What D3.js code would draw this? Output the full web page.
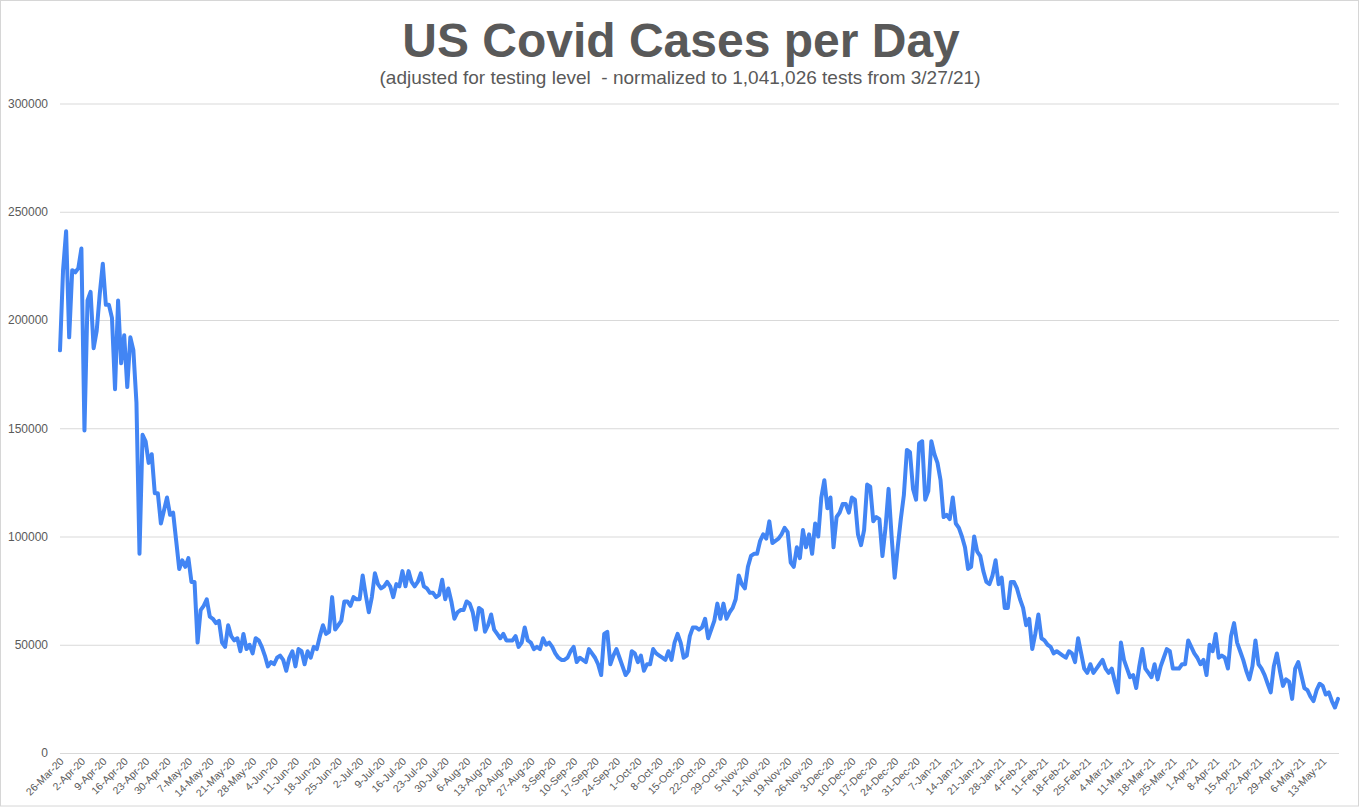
<!DOCTYPE html>
<html>
<head>
<meta charset="utf-8">
<script src="https://cdn.jsdelivr.net/npm/d3@7"></script>
<style>
  body { margin: 0; background: #fff; }
  svg { display: block; font-family: "Liberation Sans", Arial, sans-serif; }
</style>
</head>
<body>
<div class="chart"></div>
<script>
// daily cases (adjusted), one value per day starting 26-Mar-20
const startDate = '2020-03-26';
const cases = [
  186000,223000,241000,192000,223000,222000,224000,233000,149000,209000,
  213000,187000,195000,212000,226000,207000,207000,201000,168000,209000,
  180000,193000,169000,192000,186000,162000,92000,147000,144000,134000,
  138000,120000,120000,106000,112000,118000,110000,111000,98000,85000,
  89000,86000,90000,79000,79000,51000,66000,68000,71000,63000,
  62000,60000,61000,51000,49000,59000,54000,52000,53000,47000,
  55000,48000,50000,46000,53000,52000,49000,45000,40000,42000,
  41000,44000,45000,43000,38000,44000,47000,40000,48000,47000,
  41000,47000,44000,49000,48000,54000,59000,55000,56000,72000,
  57000,59000,61000,70000,70000,68000,72000,71000,71000,82000,
  73000,65000,72000,83000,78000,76000,77000,79000,77000,72000,
  78000,77000,84000,77000,84000,79000,77000,79000,83000,77000,
  76000,74000,74000,72000,73000,80000,71000,76000,70000,62000,
  65000,66000,66000,70000,69000,65000,57000,67000,66000,56000,
  59000,64000,57000,55000,53000,55000,52000,52000,52000,54000,
  49000,51000,58000,52000,51000,48000,49000,48000,53000,50000,
  51000,49000,46000,44000,43000,43000,44000,47000,49000,42000,
  44000,43000,42000,48000,46000,44000,41000,36000,55000,56000,
  41000,45000,48000,44000,40000,36000,38000,47000,46000,42000,
  45000,38000,41000,41000,48000,46000,45000,44000,43000,47000,
  43000,51000,55000,51000,44000,45000,54000,58000,58000,57000,
  58000,62000,53000,57000,61000,69000,62000,69000,62000,65000,
  67000,71000,82000,78000,76000,86000,91000,92000,92000,98000,
  101000,99000,107000,97000,98000,99000,101000,104000,102000,88000,
  86000,95000,90000,103000,95000,101000,92000,106000,100000,118000,
  126000,113000,118000,95000,109000,111000,115000,115000,111000,118000,
  117000,101000,96000,103000,124000,123000,107000,109000,108000,91000,
  104000,122000,100000,81000,95000,108000,119000,140000,139000,122000,
  117000,143000,144000,117000,121000,144000,138000,134000,126000,109000,
  110000,108000,118000,106000,104000,100000,95000,85000,86000,100000,
  93000,91000,84000,79000,78000,82000,89000,78000,81000,67000,
  67000,79000,79000,76000,71000,67000,59000,62000,48000,55000,
  64000,53000,52000,50000,49000,46000,47000,46000,45000,44000,
  47000,46000,42000,53000,46000,39000,37000,41000,37000,39000,
  41000,43000,39000,37000,39000,33000,28000,51000,43000,39000,
  35000,36000,30000,40000,48000,39000,37000,35000,41000,34000,
  40000,44000,48000,47000,39000,39000,39000,41000,41000,52000,
  49000,46000,44000,41000,43000,36000,50000,47000,55000,44000,
  45000,44000,39000,54000,60000,51000,47000,43000,38000,34000,
  40000,52000,41000,39000,36000,32000,28000,40000,46000,38000,
  31000,34000,33000,25000,39000,42000,36000,30000,29000,26000,
  24000,29000,32000,31000,27000,28000,24000,21000,25000
];
const yTicks = [0, 50000, 100000, 150000, 200000, 250000, 300000];
const labelEvery = 7; // one date label per week
const titleText = 'US Covid Cases per Day';
const subtitleText = '(adjusted for testing level  - normalized to 1,041,026 tests from 3/27/21)';

const W = 1360, H = 807;
const margin = {top: 103.5, left: 60, bottom: 54, right: 21};

const t0 = new Date(startDate + 'T00:00:00Z');
const data = cases.map((v, i) => ({date: d3.utcDay.offset(t0, i), value: v}));

const svg = d3.select('.chart').append('svg')
    .attr('width', W)
    .attr('height', H);

svg.append('rect')
    .attr('x', 0.5).attr('y', 0.5)
    .attr('width', W - 2).attr('height', H - 1.5)
    .attr('fill', '#fff')
    .attr('stroke', '#d6d6d6');

const x = d3.scaleUtc()
    .domain(d3.extent(data, d => d.date))
    .range([margin.left, 1338]);

const y = d3.scaleLinear()
    .domain([0, 300000])
    .range([H - margin.bottom, margin.top]);

// gridlines + y labels
const yAxis = d3.axisLeft(y)
    .tickValues(yTicks)
    .tickFormat(d3.format('d'))
    .tickSize(-(W - margin.right - margin.left))
    .tickPadding(12);

svg.append('g')
    .attr('class', 'axis y-axis')
    .attr('transform', `translate(${margin.left},0)`)
    .call(yAxis)
    .call(g => g.select('.domain').remove())
    .call(g => g.selectAll('line').attr('stroke', '#d9d9d9'))
    .call(g => g.selectAll('text')
        .attr('fill', '#5a5a5a')
        .attr('font-size', '12px')
        .attr('font-family', '"Liberation Sans", Arial, sans-serif'));

// weekly date labels
const tickDates = data.filter((d, i) => i % labelEvery === 0).map(d => d.date);
const fmt = d3.utcFormat('%-d-%b-%y');

const xAxis = d3.axisBottom(x)
    .tickValues(tickDates)
    .tickFormat(fmt)
    .tickSize(0);

svg.append('g')
    .attr('class', 'axis x-axis')
    .attr('transform', `translate(0,${H - margin.bottom})`)
    .call(xAxis)
    .call(g => g.select('.domain').remove())
    .call(g => g.selectAll('text')
        .attr('fill', '#5a5a5a')
        .attr('font-size', '10.5px')
        .attr('font-family', '"Liberation Sans", Arial, sans-serif')
        .attr('text-anchor', 'end')
        .attr('dy', null)
        .attr('y', 0)
        .attr('transform', 'translate(4,9) rotate(-45)'));

// the line
const line = d3.line()
    .x(d => x(d.date))
    .y(d => y(d.value));

svg.append('path')
    .datum(data)
    .attr('fill', 'none')
    .attr('stroke', '#4285f4')
    .attr('stroke-width', 4)
    .attr('stroke-linejoin', 'round')
    .attr('stroke-linecap', 'round')
    .attr('d', line);

// titles
svg.append('text')
    .attr('x', 681)
    .attr('y', 57)
    .attr('text-anchor', 'middle')
    .attr('font-size', '48px')
    .attr('font-weight', 'bold')
    .attr('fill', '#595959')
    .text(titleText);

svg.append('text')
    .attr('x', 680)
    .attr('y', 84)
    .attr('text-anchor', 'middle')
    .attr('font-size', '19px')
    .attr('fill', '#595959')
    .style('white-space', 'pre')
    .text(subtitleText);
</script>
</body>
</html>
